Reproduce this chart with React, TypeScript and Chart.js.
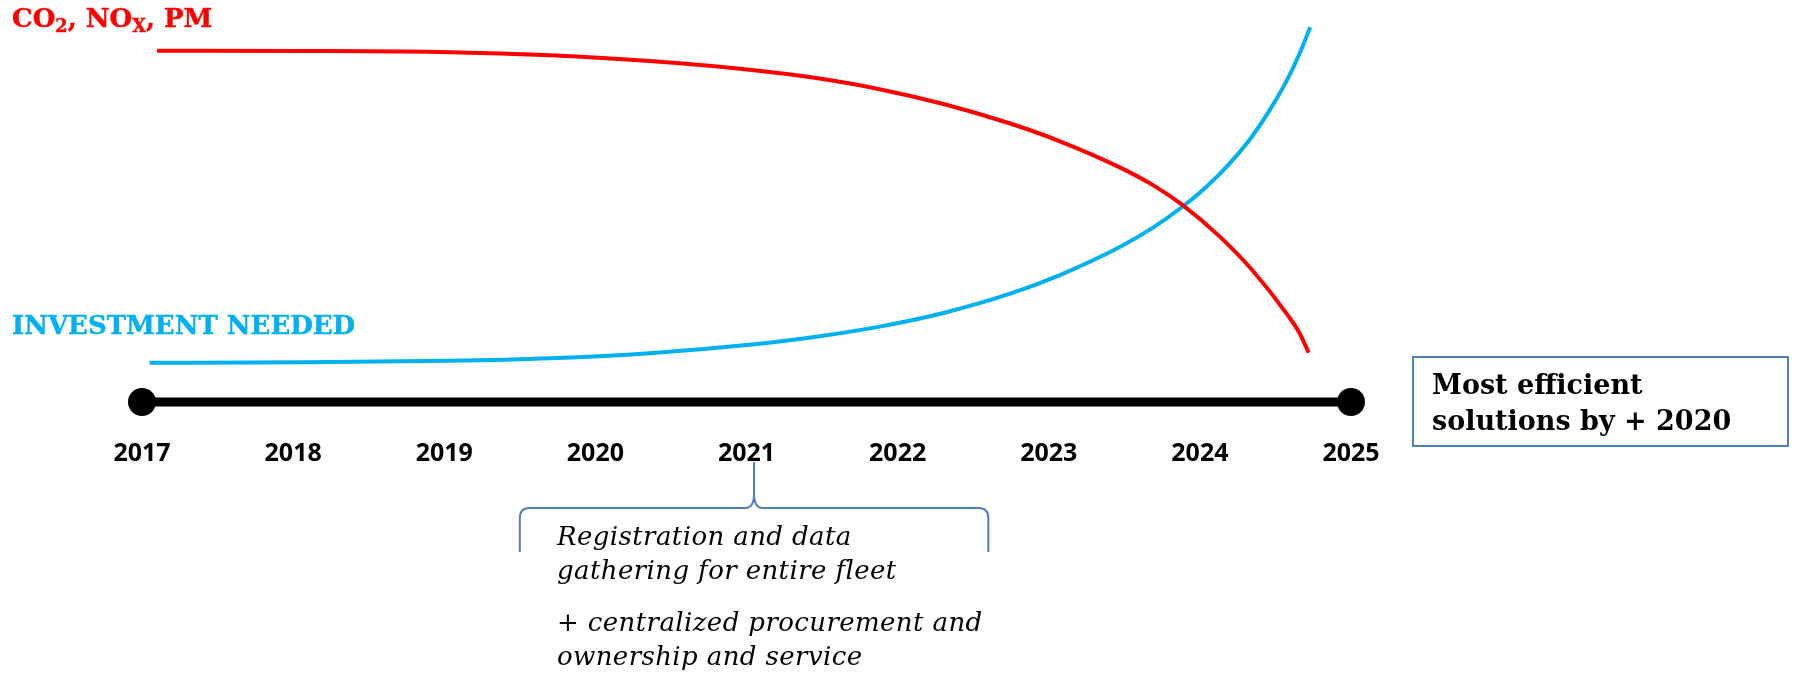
import React, { useEffect, useRef } from "react";
import { Chart, registerables } from "chart.js";

Chart.register(...registerables);

// Timeline ticks
const years = [2017, 2018, 2019, 2020, 2021, 2022, 2023, 2024, 2025];
const timelineEnds = [2017, 2025];

// Emissions (CO2, NOx, PM) – falling curve
const emissionYears = [2017.1, 2018.05, 2019.04, 2019.7, 2020.36, 2021.02, 2021.45, 2021.88, 2022.31, 2022.74, 2023.07, 2023.47, 2023.69, 2023.88, 2024.13, 2024.35, 2024.58, 2024.66, 2024.72];
const emissionValues = [93.4, 93.35, 93.05, 92.19, 90.67, 88.36, 86.21, 83.2, 79.2, 74.13, 69.41, 62.41, 57.68, 52.55, 44.05, 34.92, 23.19, 18.3, 13.1];

// Investment needed – rising curve
const investmentYears = [2017.05, 2018.05, 2019.04, 2019.7, 2020.36, 2021.02, 2021.45, 2021.88, 2022.31, 2022.74, 2023.07, 2023.47, 2023.69, 2023.88, 2024.02, 2024.13, 2024.24, 2024.35, 2024.46, 2024.58, 2024.66, 2024.73];
const investmentValues = [10.45, 10.55, 10.95, 11.64, 12.99, 15.23, 17.29, 20.04, 23.74, 28.73, 33.68, 41.2, 46.37, 51.79, 56.41, 60.59, 65.38, 70.88, 77.48, 85.88, 92.68, 99.68];

// Bracket under the timeline (start, tip, end) in years
const bracketYears = [2019.5, 2021.05, 2022.6];

const RED = "#FF0000";
const BLUE = "#00B0F0";
const BRACE = "#4F81BD";

const bracePlugin = {
  id: "brace",
  afterDatasetsDraw(chart: any) {
    const x = chart.scales.x;
    const base = chart.chartArea.bottom;
    const ctx = chart.ctx;
    const [l, m, r] = bracketYears.map((v) => x.getPixelForValue(v));
    const yTop = base + 60;
    const yMid = base + 106;
    const yBot = base + 150;
    ctx.save();
    ctx.strokeStyle = BRACE;
    ctx.lineWidth = 2;
    ctx.beginPath();
    ctx.moveTo(l, yBot);
    ctx.lineTo(l, yMid + 10);
    ctx.quadraticCurveTo(l, yMid, l + 10, yMid);
    ctx.lineTo(m - 9, yMid);
    ctx.quadraticCurveTo(m, yMid, m, yMid - 14);
    ctx.lineTo(m, yTop);
    ctx.moveTo(m, yMid - 14);
    ctx.quadraticCurveTo(m, yMid, m + 9, yMid);
    ctx.lineTo(r - 10, yMid);
    ctx.quadraticCurveTo(r, yMid, r, yMid + 10);
    ctx.lineTo(r, yBot);
    ctx.stroke();
    ctx.restore();
  },
};

const serif = "'DejaVu Serif', serif";
const subStyle = { fontSize: "0.68em", verticalAlign: "-0.28em", lineHeight: 0 } as const;

export default function App() {
  const canvasRef = useRef<HTMLCanvasElement | null>(null);

  useEffect(() => {
    const canvas = canvasRef.current;
    if (!canvas) return;
    const chart = new Chart(canvas, {
      type: "line",
      data: {
        datasets: [
          {
            label: "timeline",
            data: timelineEnds.map((x) => ({ x, y: 0 })),
            borderColor: "#000",
            borderWidth: 9,
            pointRadius: 14,
            pointBackgroundColor: "#000",
            pointBorderWidth: 0,
            clip: false as any,
          },
          {
            label: "CO2, NOx, PM",
            data: emissionYears.map((x, i) => ({ x, y: emissionValues[i] })),
            borderColor: RED,
            borderWidth: 4,
            pointRadius: 0,
            cubicInterpolationMode: "monotone",
            clip: false as any,
          },
          {
            label: "Investment needed",
            data: investmentYears.map((x, i) => ({ x, y: investmentValues[i] })),
            borderColor: BLUE,
            borderWidth: 4,
            pointRadius: 0,
            cubicInterpolationMode: "monotone",
            clip: false as any,
          },
        ],
      },
      options: {
        animation: false,
        responsive: false,
        devicePixelRatio: 1,
        layout: { padding: { left: 142, right: 446, top: 26, bottom: 0 } },
        plugins: { legend: { display: false }, tooltip: { enabled: false } },
        scales: {
          x: {
            type: "linear",
            min: 2017,
            max: 2025,
            grid: { display: false, drawTicks: false },
            border: { display: false },
            afterBuildTicks: (scale: any) => {
              scale.ticks = years.map((v) => ({ value: v }));
            },
            afterFit: (scale: any) => {
              scale.height = 272;
            },
            ticks: {
              padding: 37,
              color: "#000",
              font: { family: "'Open Sans', sans-serif", weight: "bold", size: 25 },
              callback: (v: any) => String(v),
            },
          },
          y: { display: false, min: 0, max: 100 },
        },
      },
      plugins: [bracePlugin],
    });
    return () => chart.destroy();
  }, []);

  return (
    <div style={{ position: "absolute", left: 0, top: 0, width: 1797, height: 674, background: "#fff" }}>
      <canvas ref={canvasRef} width={1797} height={674} style={{ position: "absolute", left: 0, top: 0 }} />
      <div
        style={{
          position: "absolute",
          left: 12,
          top: 5,
          font: `bold 26px ${serif}`,
          lineHeight: 1,
          color: RED,
          whiteSpace: "nowrap",
          WebkitTextStroke: `0.4px ${RED}`,
        }}
      >
        CO<sub style={subStyle}>2</sub>, NO<sub style={subStyle}>X</sub>, PM
      </div>
      <div
        style={{
          position: "absolute",
          left: 12,
          top: 312,
          font: `bold 26px ${serif}`,
          lineHeight: 1,
          color: BLUE,
          whiteSpace: "nowrap",
          WebkitTextStroke: `0.4px ${BLUE}`,
        }}
      >
        INVESTMENT NEEDED
      </div>
      <div
        style={{
          position: "absolute",
          left: 1412,
          top: 356,
          width: 377,
          height: 91,
          boxSizing: "border-box",
          border: `2px solid ${BRACE}`,
          padding: "9px 0 0 18px",
          font: `bold 27px ${serif}`,
          lineHeight: "36px",
          color: "#000",
          whiteSpace: "nowrap",
        }}
      >
        Most efficient
        <br />
        solutions by + 2020
      </div>
      <div
        style={{
          position: "absolute",
          left: 557,
          top: 519,
          font: `italic 26px ${serif}`,
          letterSpacing: "0.4px",
          lineHeight: "34px",
          color: "#000",
          whiteSpace: "nowrap",
        }}
      >
        Registration and data
        <br />
        gathering for entire fleet
      </div>
      <div
        style={{
          position: "absolute",
          left: 557,
          top: 605,
          font: `italic 26px ${serif}`,
          letterSpacing: "0.4px",
          lineHeight: "34px",
          color: "#000",
          whiteSpace: "nowrap",
        }}
      >
        + centralized procurement and
        <br />
        ownership and service
      </div>
    </div>
  );
}
